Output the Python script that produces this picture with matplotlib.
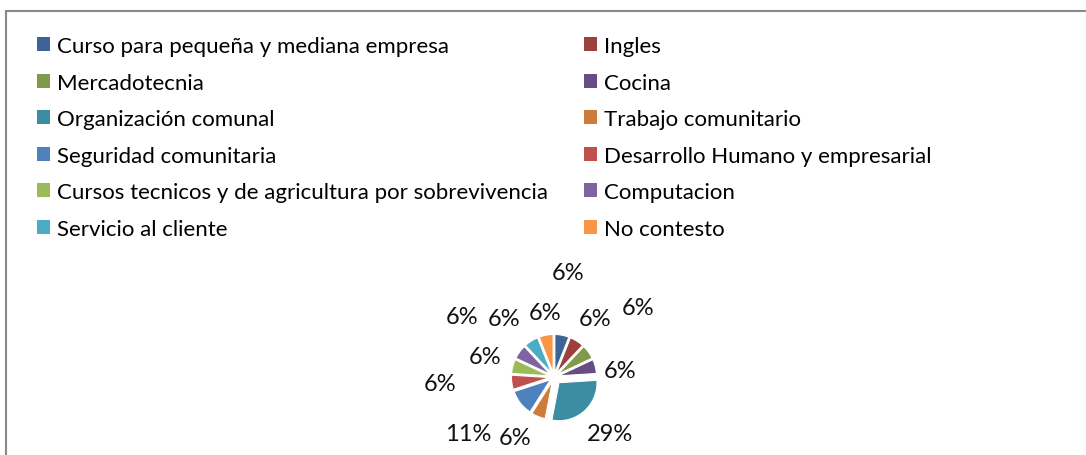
import matplotlib.pyplot as plt
from matplotlib.patches import Rectangle, Patch

plt.rcParams["font.family"] = ["Lato", "DejaVu Sans"]

categories = [
    "Curso para pequeña y mediana empresa",
    "Ingles",
    "Mercadotecnia",
    "Cocina",
    "Organización comunal",
    "Trabajo comunitario",
    "Seguridad comunitaria",
    "Desarrollo Humano y empresarial",
    "Cursos tecnicos y de agricultura por sobrevivencia",
    "Computacion",
    "Servicio al cliente",
    "No contesto",
]
percentages = [6, 6, 6, 6, 29, 6, 11, 6, 6, 6, 6, 6]

colors = [
    "#3E6497", "#9B403D", "#7F9A48", "#664E85", "#3A8DA2", "#CC7B38",
    "#4F81BD", "#C0504D", "#9BBB59", "#8064A2", "#4BACC6", "#F79646",
]

# label offsets from the pie centre (in pie radii), Excel "best fit" style
label_offsets = [
    (0.37, 2.76), (1.08, 1.53), (2.21, 1.84), (1.74, 0.16),
    (1.47, -1.50), (-1.03, -1.58), (-2.26, -1.50), (-3.00, -0.18),
    (-1.82, 0.55), (-2.42, 1.58), (-1.32, 1.53), (-0.24, 1.71),
]

W, H = 1086, 456
fig = plt.figure(figsize=(W / 100, H / 100), dpi=100)

# chart frame (right and bottom edges fall outside the picture)
fig.patches.append(
    Rectangle((6 / W, -0.1), 1.2, (H - 12) / H + 0.1, transform=fig.transFigure,
              fill=False, edgecolor="#888888", linewidth=1.5)
)

R = 38  # pie radius in pixels
cx, cy = 554, 378
aw, ah = 380, 260
ax = fig.add_axes([(cx - aw / 2) / W, (H - cy - ah / 2) / H, aw / W, ah / H])

explode = [0.12] * len(percentages)
explode[4] = 0.2
wedges, _ = ax.pie(
    percentages,
    colors=colors,
    startangle=90,
    counterclock=False,
    explode=explode,
    radius=1.0,
    wedgeprops=dict(edgecolor="white", linewidth=0.8),
)
ax.set_aspect("auto")
ax.set_xlim(-aw / 2 / R, aw / 2 / R)
ax.set_ylim(-ah / 2 / R, ah / 2 / R)
ax.axis("off")

for p, (dx, dy) in zip(percentages, label_offsets):
    ax.text(dx, dy, f"{p}%", ha="center", va="center", fontsize=17,
            color="#111111", clip_on=False)

# legend, row-wise order in two columns
handles = [Patch(facecolor=c, edgecolor="none") for c in colors]
order = list(range(0, 12, 2)) + list(range(1, 12, 2))
fig.legend(
    [handles[i] for i in order],
    [categories[i] for i in order],
    ncol=2,
    loc="upper left",
    bbox_to_anchor=(37 / W, (H - 37) / H),
    frameon=False,
    fontsize=16,
    handlelength=0.6,
    handleheight=0.6,
    handletextpad=0.3,
    labelspacing=0.745,
    columnspacing=1.6,
    borderaxespad=0,
    borderpad=0,
)

fig.savefig("out.png", dpi=100)
